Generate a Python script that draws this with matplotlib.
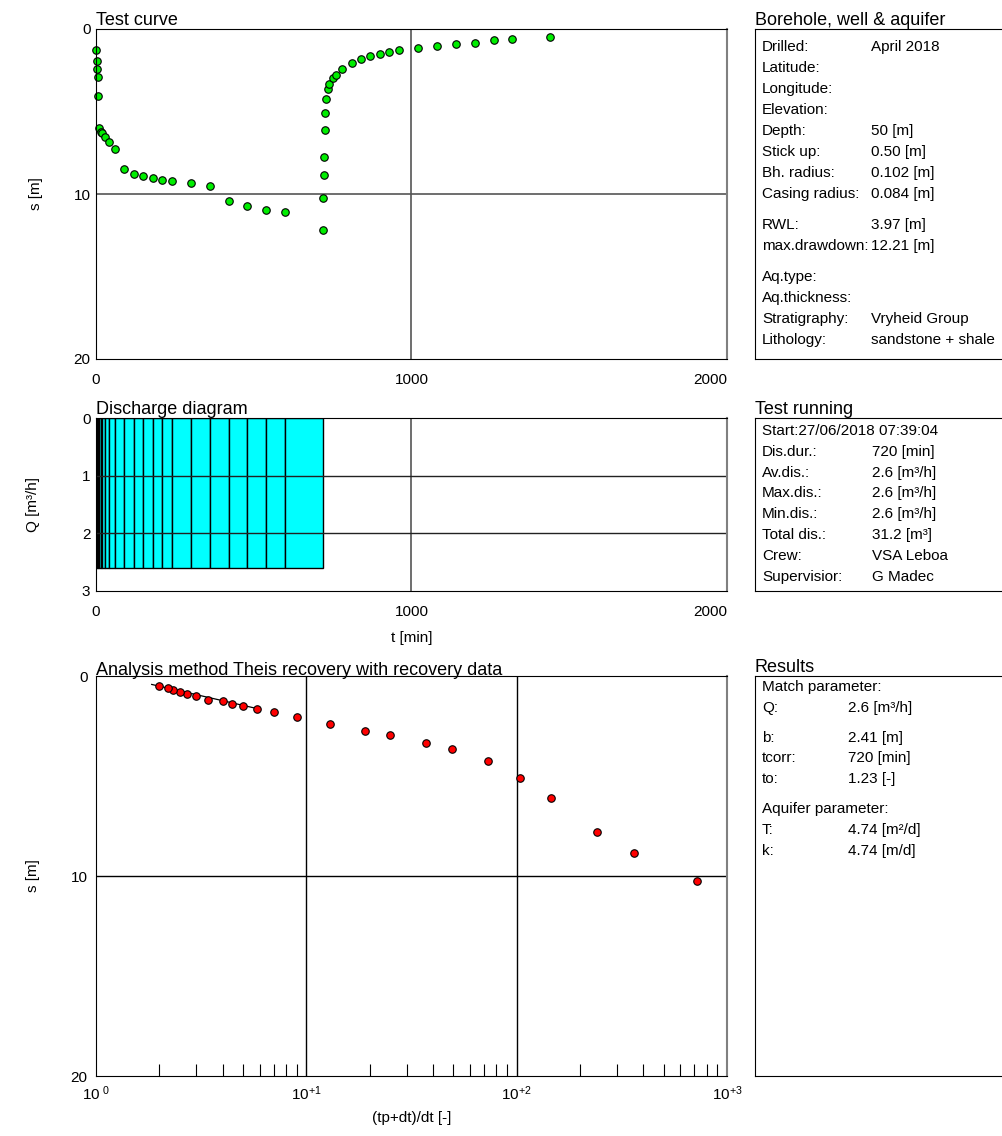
import numpy as np
import matplotlib
matplotlib.use("Agg")
import matplotlib.pyplot as plt

plt.rcParams['font.family'] = ['Liberation Sans', 'DejaVu Sans']

# ==== Datos del ensayo ====
# bombeo (t en min, s en m)
t_bombeo = [1, 2, 3, 5, 7, 10, 15, 20, 30, 40, 60, 90, 120, 150, 180, 210,
            240, 300, 360, 420, 480, 540, 600, 720]
s_bombeo = [1.25, 1.96, 2.42, 2.89, 4.04, 6.02, 6.24, 6.32, 6.56, 6.85, 7.29,
            8.46, 8.79, 8.93, 9.01, 9.15, 9.19, 9.33, 9.52, 10.42, 10.73,
            10.97, 11.07, 12.21]
# recuperacion (dt en min desde el final del bombeo)
tp = 720
dt_rec = [1, 2, 3, 5, 7, 10, 15, 20, 30, 40, 60, 90, 120, 150, 180, 210,
          240, 300, 360, 420, 480, 540, 600, 720]
s_rec = [10.23, 8.87, 7.78, 6.10, 5.08, 4.23, 3.63, 3.33, 2.97, 2.77, 2.42,
         2.07, 1.82, 1.65, 1.50, 1.42, 1.27, 1.18, 1.00, 0.88, 0.82, 0.68,
         0.60, 0.50]
# caudal
Q_bombeo = [2.6] * len(t_bombeo)
# recta de ajuste Theis recovery
b_ajuste = 2.41
to_ajuste = 1.23
x_recta = [1.84, 5.8]

# textos de los cuadros
pozo_etq = [["Drilled:", "Latitude:", "Longitude:", "Elevation:", "Depth:",
             "Stick up:", "Bh. radius:", "Casing radius:"],
            ["RWL:", "max.drawdown:"],
            ["Aq.type:", "Aq.thickness:", "Stratigraphy:", "Lithology:"]]
pozo_val = [["April 2018", "", "", "", "50 [m]", "0.50 [m]", "0.102 [m]",
             "0.084 [m]"],
            ["3.97 [m]", "12.21 [m]"],
            ["", "", "Vryheid Group", "sandstone + shale"]]
ensayo_etq = [["Start:27/06/2018 07:39:04", "Dis.dur.:", "Av.dis.:",
               "Max.dis.:", "Min.dis.:", "Total dis.:", "Crew:",
               "Supervisior:"]]
ensayo_val = [["", "720 [min]", "2.6 [m³/h]", "2.6 [m³/h]", "2.6 [m³/h]",
               "31.2 [m³]", "VSA Leboa", "G Madec"]]
res_etq = [["Match parameter:", "Q:"], ["b:", "tcorr:", "to:"],
           ["Aquifer parameter:", "T:", "k:"]]
res_val = [["", "2.6 [m³/h]"], ["2.41 [m]", "720 [min]", "1.23 [-]"],
           ["", "4.74 [m²/d]", "4.74 [m/d]"]]

W, H = 1003, 1136
fig = plt.figure(figsize=(W / 100, H / 100), dpi=100)


def caja(x0, y0, x1, y1):
    # ejes en pixeles (origen arriba a la izquierda)
    return fig.add_axes([x0 / W, 1 - y1 / H, (x1 - x0) / W, (y1 - y0) / H])


def marco(ax):
    for lado in ['top', 'left', 'bottom']:
        ax.spines[lado].set_color('black')
    ax.spines['right'].set_color('#808080')
    ax.spines['right'].set_linewidth(1.5)


def ultima_derecha(ax):
    # la ultima etiqueta del eje x va pegada al borde
    ax.get_xticklabels()[-1].set_horizontalalignment('right')


fs_tit = 13
fs = 11
gris = '#555555'

# ==== 1. Test curve ====
ax1 = caja(96, 29, 727, 359)
t_rec = [tp + d for d in dt_rec]
ax1.plot(t_bombeo, s_bombeo, 'o', color='#00ee00', mec='black', mew=0.8, ms=5.4,
         clip_on=False)
ax1.plot(t_rec, s_rec, 'o', color='#00ee00', mec='black', mew=0.8, ms=5.4,
         clip_on=False)
ax1.set_xlim(0, 2000)
ax1.set_ylim(20, 0)
ax1.set_xticks([0, 1000, 2000])
ax1.set_yticks([0, 10, 20])
ax1.tick_params(axis='x', length=0, labelsize=fs, pad=10)
ax1.tick_params(axis='y', length=0, labelsize=fs, pad=4)
ultima_derecha(ax1)
ax1.axvline(1000, color=gris, lw=1.2, zorder=0)
ax1.axhline(10, color=gris, lw=1.2, zorder=0)
ax1.set_title("Test curve", loc='left', fontsize=fs_tit, pad=1)
ax1.set_ylabel("s [m]", fontsize=fs, labelpad=22)
marco(ax1)

# ==== 2. Discharge diagram ====
ax2 = caja(96, 418, 727, 591)
izq = [0] + t_bombeo[:-1]
anchos = np.diff([0] + t_bombeo)
ax2.bar(izq, Q_bombeo, width=anchos, align='edge', color='#00ffff',
        edgecolor='black', linewidth=1.0, zorder=1)
ax2.set_xlim(0, 2000)
ax2.set_ylim(3, 0)
ax2.set_xticks([0, 1000, 2000])
ax2.set_yticks([0, 1, 2, 3])
ax2.tick_params(axis='x', length=0, labelsize=fs, pad=10)
ax2.tick_params(axis='y', length=0, labelsize=fs, pad=4)
ultima_derecha(ax2)
ax2.axvline(1000, color=gris, lw=1.2, zorder=2)
for q in [1, 2]:
    ax2.axhline(q, color='#222222', lw=1.0, zorder=2)
ax2.set_title("Discharge diagram", loc='left', fontsize=fs_tit, pad=1)
ax2.set_ylabel("Q [m³/h]", fontsize=fs, labelpad=30)
ax2.set_xlabel("t [min]", fontsize=fs, labelpad=9)
marco(ax2)

# ==== 3. Theis recovery ====
ax3 = caja(96, 676, 727, 1076)
x_rec = [(tp + d) / d for d in dt_rec]
xr = np.array(x_recta)
ax3.plot(xr, b_ajuste * np.log10(xr / to_ajuste), color='black', lw=0.9, zorder=3)
ax3.plot(x_rec, s_rec, 'o', color='#ff0000', mec='black', mew=0.8, ms=5.4,
         zorder=4)
ax3.set_xscale('log')
ax3.set_xlim(1, 1000)
ax3.set_ylim(20, 0)
ax3.set_xticks([1, 10, 100, 1000])
ax3.set_xticklabels([r'$\mathregular{10^{\ 0}}$', r'$\mathregular{10^{+1}}$',
                     r'$\mathregular{10^{+2}}$', r'$\mathregular{10^{+3}}$'])
ax3.set_yticks([0, 10, 20])
ax3.tick_params(which='major', length=0, labelsize=fs, pad=6)
ax3.tick_params(which='minor', axis='x', direction='in', length=9, width=0.8,
                color='black', labelbottom=False)
ax3.tick_params(which='minor', axis='y', length=0)
ax3.axvline(10, color='black', lw=1.0, zorder=1)
ax3.axvline(100, color='black', lw=1.0, zorder=1)
ax3.axhline(10, color='black', lw=1.0, zorder=1)
ax3.set_title("Analysis method Theis recovery with recovery data", loc='left',
              fontsize=fs_tit, pad=1)
ax3.set_ylabel("s [m]", fontsize=fs, labelpad=22)
ax3.set_xlabel("(tp+dt)/dt [-]", fontsize=fs, labelpad=6)
marco(ax3)


# ==== 4. Cuadros de texto ====
def cuadro(y0, y1, titulo, etiquetas, valores, y_ini, x_val, paso=21, hueco=10):
    ax = caja(755, y0, 1015, y1)
    ax.set_xticks([])
    ax.set_yticks([])
    ax.spines['right'].set_visible(False)
    ax.set_title(titulo, loc='left', fontsize=fs_tit, pad=1)
    y = y_ini
    for g, (etq, val) in enumerate(zip(etiquetas, valores)):
        if g > 0:
            y += hueco
        for e, v in zip(etq, val):
            fig.text(762 / W, 1 - y / H, e, fontsize=fs, va='center')
            if v:
                fig.text(x_val / W, 1 - y / H, v, fontsize=fs, va='center')
            y += paso
    return ax


cuadro(29, 359, "Borehole, well & aquifer", pozo_etq, pozo_val, 47, 871)
cuadro(418, 591, "Test running", ensayo_etq, ensayo_val, 431, 872, paso=20.8)
cuadro(676, 1076, "Results", res_etq, res_val, 687, 848, paso=20.8, hueco=9)

fig.savefig("out.png", dpi=100)
